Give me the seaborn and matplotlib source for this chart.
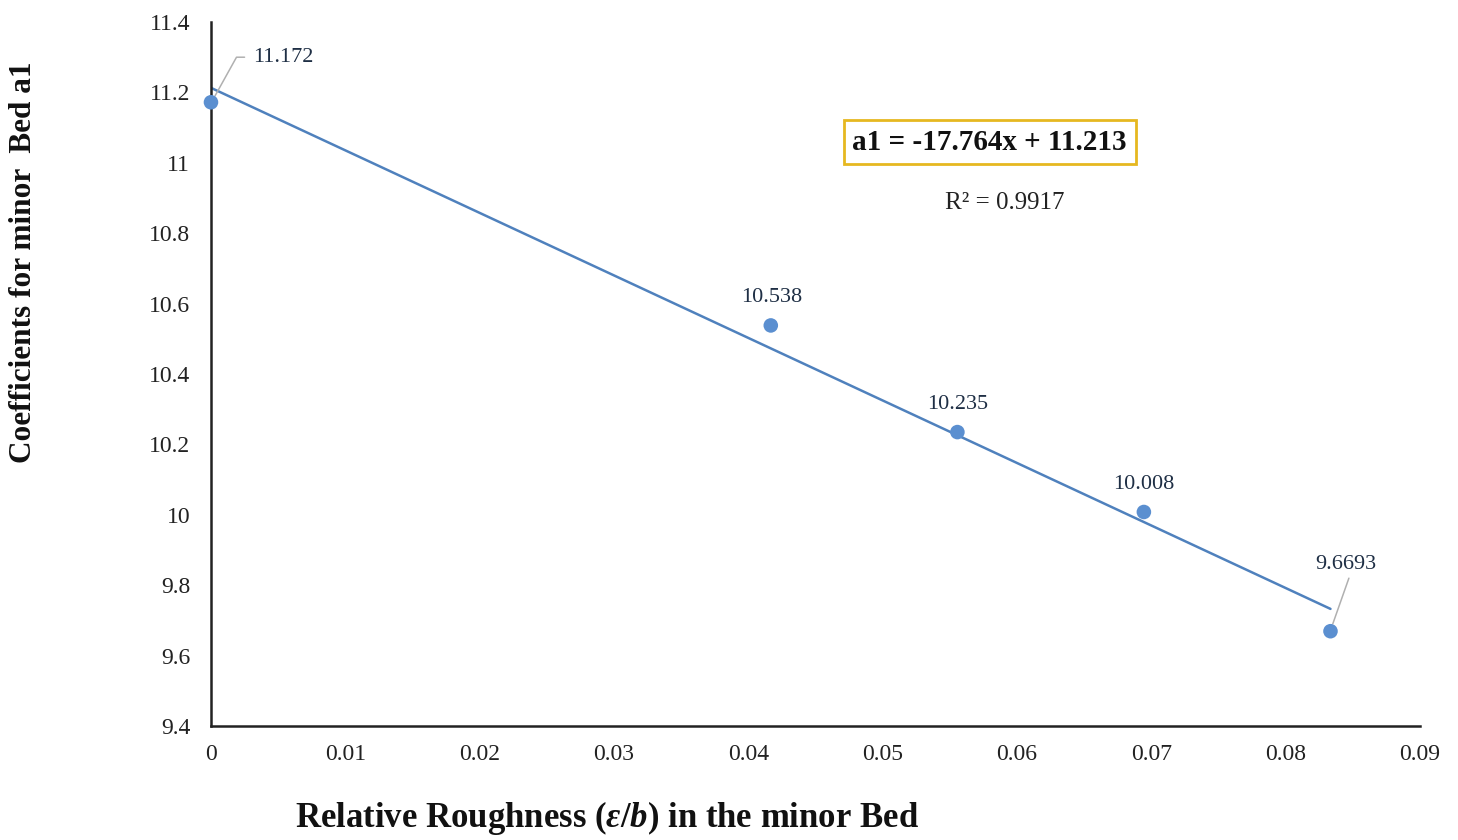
import matplotlib
matplotlib.use("Agg")
import matplotlib.pyplot as plt
import seaborn as sns
import numpy as np
import pandas as pd

# Data
x_vals = [0.0, 0.04167, 0.05556, 0.06944, 0.08333]
y_vals = [11.172, 10.538, 10.235, 10.008, 9.6693]
labels = ["11.172", "10.538", "10.235", "10.008", "9.6693"]
slope = -17.764
intercept = 11.213
r2 = 0.9917
x_ticks = [0, 0.01, 0.02, 0.03, 0.04, 0.05, 0.06, 0.07, 0.08, 0.09]
x_tick_labels = ["0", "0.01", "0.02", "0.03", "0.04", "0.05", "0.06", "0.07", "0.08", "0.09"]
y_ticks = [9.4, 9.6, 9.8, 10.0, 10.2, 10.4, 10.6, 10.8, 11.0, 11.2, 11.4]
y_tick_labels = ["9.4", "9.6", "9.8", "10", "10.2", "10.4", "10.6", "10.8", "11", "11.2", "11.4"]

sns.set_theme(style="white")
plt.rcParams['font.family'] = ['Liberation Serif', 'DejaVu Serif']
plt.rcParams['mathtext.fontset'] = 'custom'
plt.rcParams['mathtext.rm'] = 'Liberation Serif'
plt.rcParams['mathtext.it'] = 'Liberation Serif:italic'
plt.rcParams['mathtext.bf'] = 'Liberation Serif:bold'
plt.rcParams['mathtext.bfit'] = 'Liberation Serif:bold:italic'

fig = plt.figure(figsize=(14.58, 8.40), dpi=100)
ax = fig.add_axes([0.1447, 0.1357, 0.974 - 0.1447, 0.9738 - 0.1357])

df = pd.DataFrame({"x": x_vals, "y": y_vals})
trend = pd.DataFrame({"x": [min(x_vals), max(x_vals)]})
trend["y"] = intercept + slope * trend["x"]

sns.lineplot(data=trend, x="x", y="y", ax=ax, color="#4f81bd", linewidth=1.8)
sns.scatterplot(data=df, x="x", y="y", ax=ax, color="#5b8fd0", s=110, edgecolor="none", zorder=5, clip_on=False)

ax.set_xlim(0, 0.09)
ax.set_ylim(9.4, 11.4)
ax.set_xticks(x_ticks)
ax.set_xticklabels(x_tick_labels)
ax.set_yticks(y_ticks)
ax.set_yticklabels(y_tick_labels)
ax.tick_params(axis="both", length=0, labelsize=17, colors="#222222")
ax.tick_params(axis="x", pad=13)
ax.tick_params(axis="y", pad=15)
ax.set_xlabel("")
ax.set_ylabel("")
for s in ["top", "right"]:
    ax.spines[s].set_visible(False)
for s in ["left", "bottom"]:
    ax.spines[s].set_color("#222222")
    ax.spines[s].set_linewidth(1.8)
ax.grid(False)

# Data labels
lab_pos = [(0.00536, 11.30), (0.0417, 10.616), (0.0556, 10.312), (0.0694, 10.085), (0.0845, 9.86)]
lab_col = "#1f2f45"
for (lx, ly), t in zip(lab_pos, labels):
    ax.text(lx, ly, t, ha="center", va="center", fontsize=16, color=lab_col)
# leader lines
ax.plot([0.0003, 0.0019, 0.0025], [11.19, 11.30, 11.30], color="#b0b0b0", lw=1.1, zorder=4)
ax.plot([0.0835, 0.0847], [9.69, 9.82], color="#b0b0b0", lw=1.1, zorder=4)

# Equation and R2
ax.text(0.05796, 11.059, f"a1 = {slope}x + {intercept}", ha="center", va="center",
        fontsize=21, fontweight="bold", color="#111111",
        bbox=dict(boxstyle="square,pad=0.3", facecolor="white", edgecolor="#e6b820", linewidth=2))
ax.text(0.0591, 10.886, f"R² = {r2}", ha="center", va="center", fontsize=18, color="#222222")

fig.text(607 / 1458, 1 - 818 / 840, r"Relative Roughness ($\mathbfit{\varepsilon}$/$\mathbfit{b}$) in the minor Bed",
         ha="center", va="center", fontsize=25, fontweight="bold", color="#111111")
fig.text(24 / 1458, 1 - 262 / 840, "Coefficients for minor  Bed a1", rotation=90,
         ha="center", va="center", fontsize=22.5, fontweight="bold", color="#111111")

fig.savefig("out.png", dpi=100, facecolor="white")
